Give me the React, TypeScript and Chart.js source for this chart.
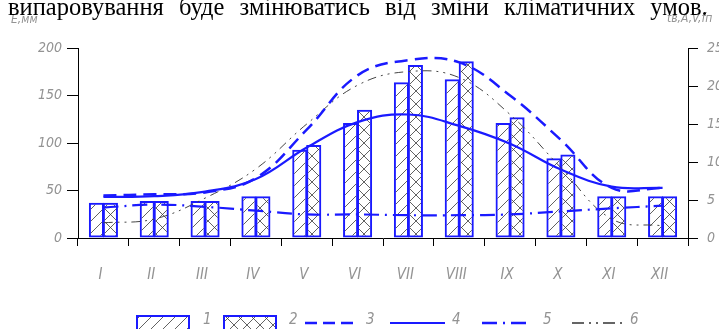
import React, { useEffect, useRef } from "react";
import { Chart, registerables } from "chart.js";

Chart.register(...registerables);

const months = ["I", "II", "III", "IV", "V", "VI", "VII", "VIII", "IX", "X", "XI", "XII"];
const evaporation1 = [37, 39, 39, 44, 93, 121, 164, 167, 121, 84, 44, 44];
const evaporation2 = [37, 39, 39, 44, 98, 135, 182, 186, 127, 88, 44, 44];
const series3 = [5.6, 5.75, 6.0, 7.9, 14.25, 21.4, 23.4, 23.1, 18.75, 12.9, 6.6, 6.6];
const series4 = [5.4, 5.5, 6.1, 7.75, 11.9, 15.25, 16.25, 14.75, 12.4, 9.0, 6.75, 6.6];
const series5 = [4.0, 4.4, 4.1, 3.6, 3.1, 3.1, 3.0, 3.0, 3.1, 3.5, 3.9, 4.25];
const series6 = [2.0, 2.5, 5.25, 9.1, 15.0, 20.1, 21.9, 21.1, 16.25, 9.25, 2.5, 1.6];
const legendLabels = ["1", "2", "3", "4", "5", "6"];
const leftTitle = "Е,мм";
const rightTitle = "tв,A,V,fп";
const headline = "випаровування буде змінюватись від зміни кліматичних умов.";

const BLUE = "#1a1aff";
const GREY_TEXT = "#939393";
const FONT_FAMILY = "'Liberation Sans Narrow', 'DejaVu Sans Condensed', 'Liberation Sans', sans-serif";

function makePattern(kind: "slash" | "cross", size: number) {
  const c = document.createElement("canvas");
  c.width = size;
  c.height = size;
  const ctx = c.getContext("2d")!;
  ctx.strokeStyle = "#3a3a3a";
  ctx.lineWidth = 0.8;
  ctx.beginPath();
  ctx.moveTo(-1, size + 1);
  ctx.lineTo(size + 1, -1);
  if (kind === "cross") {
    ctx.moveTo(-1, -1);
    ctx.lineTo(size + 1, size + 1);
  }
  ctx.stroke();
  return ctx.createPattern(c, "repeat")!;
}

export default function App() {
  const canvasRef = useRef<HTMLCanvasElement | null>(null);

  useEffect(() => {
    if (!canvasRef.current) return;
    const slash = makePattern("slash", 12);
    const cross = makePattern("cross", 13);

    const overlay = {
      id: "overlay",
      afterDraw(chart: any) {
        const ctx = chart.ctx as CanvasRenderingContext2D;
        ctx.save();
        ctx.fillStyle = GREY_TEXT;
        ctx.font = `italic 12px ${FONT_FAMILY}`;
        ctx.textBaseline = "alphabetic";
        ctx.textAlign = "left";
        ctx.fillText(leftTitle, 11, 23);
        ctx.fillText(rightTitle, 667, 22);

        // legend
        const boxTop = 316;
        const boxes = [
          { x: 137, w: 52, fill: slash },
          { x: 224, w: 52, fill: cross },
        ];
        boxes.forEach((b) => {
          ctx.fillStyle = b.fill;
          ctx.fillRect(b.x, boxTop, b.w, 20);
          ctx.strokeStyle = BLUE;
          ctx.lineWidth = 2;
          ctx.strokeRect(b.x, boxTop, b.w, 20);
        });
        const lines = [
          { x1: 305, x2: 353, color: BLUE, dash: [12, 6], w: 2.5 },
          { x1: 390, x2: 445, color: BLUE, dash: [], w: 2.2 },
          { x1: 482, x2: 530, color: BLUE, dash: [15, 6, 2, 6], w: 2.5 },
          { x1: 572, x2: 627, color: "#333", dash: [12, 5, 2, 5, 2, 5], w: 1.5 },
        ];
        lines.forEach((l) => {
          ctx.beginPath();
          ctx.strokeStyle = l.color;
          ctx.lineWidth = l.w;
          ctx.setLineDash(l.dash);
          ctx.moveTo(l.x1, 323);
          ctx.lineTo(l.x2, 323);
          ctx.stroke();
        });
        ctx.setLineDash([]);
        ctx.fillStyle = GREY_TEXT;
        ctx.font = `italic 15px ${FONT_FAMILY}`;
        const labelX = [203, 289, 366, 452, 543, 630];
        legendLabels.forEach((t, i) => ctx.fillText(t, labelX[i], 324));
        ctx.restore();
      },
    };

    const tickFont = { family: FONT_FAMILY, size: 14, style: "italic" as const };

    const chart = new Chart(canvasRef.current, {
      type: "bar",
      data: {
        labels: months,
        datasets: [
          {
            type: "line",
            label: "3",
            data: series3,
            yAxisID: "y1",
            borderColor: BLUE,
            borderWidth: 2.5,
            borderDash: [13, 7],
            pointRadius: 0,
            tension: 0.4,
            fill: false,
            order: 0,
          },
          {
            type: "line",
            label: "4",
            data: series4,
            yAxisID: "y1",
            borderColor: BLUE,
            borderWidth: 2.2,
            pointRadius: 0,
            tension: 0.4,
            fill: false,
            order: 0,
          },
          {
            type: "line",
            label: "5",
            data: series5,
            yAxisID: "y1",
            borderColor: BLUE,
            borderWidth: 2.2,
            borderDash: [15, 6, 2, 6],
            pointRadius: 0,
            tension: 0.4,
            fill: false,
            order: 0,
          },
          {
            type: "line",
            label: "6",
            data: series6,
            yAxisID: "y1",
            borderColor: "#444",
            borderWidth: 1,
            borderDash: [9, 5, 2, 5, 2, 5],
            pointRadius: 0,
            tension: 0.4,
            fill: false,
            order: 0,
          },
          {
            type: "bar",
            label: "1",
            data: evaporation1,
            yAxisID: "y",
            backgroundColor: slash,
            borderColor: BLUE,
            borderWidth: 2,
            borderSkipped: false,
            categoryPercentage: 0.55,
            barPercentage: 1.08,
            order: 1,
          },
          {
            type: "bar",
            label: "2",
            data: evaporation2,
            yAxisID: "y",
            backgroundColor: cross,
            borderColor: BLUE,
            borderWidth: 2,
            borderSkipped: false,
            categoryPercentage: 0.55,
            barPercentage: 1.08,
            order: 1,
          },
        ],
      },
      options: {
        animation: false,
        responsive: false,
        maintainAspectRatio: false,
        layout: { padding: { top: 48, left: 0, right: 0, bottom: 0 } },
        plugins: { legend: { display: false }, tooltip: { enabled: false }, title: { display: false } },
        scales: {
          x: {
            offset: true,
            grid: { offset: true, drawOnChartArea: false, drawTicks: true, tickLength: 8, color: "#000" },
            border: { display: true, color: "#000", width: 1 },
            ticks: {
              color: GREY_TEXT,
              font: { ...tickFont, size: 15 },
              padding: 20,
              labelOffset: -3,
              maxRotation: 0,
              autoSkip: false,
            },
            afterFit(scale: any) {
              scale.height = 91;
            },
          },
          y: {
            position: "left",
            min: 0,
            max: 200,
            ticks: { stepSize: 50, color: GREY_TEXT, font: tickFont, padding: 5 },
            grid: { drawOnChartArea: false, drawTicks: true, tickLength: 11, color: "#000" },
            border: { display: true, color: "#000", width: 1 },
            afterFit(scale: any) {
              scale.width = 78;
            },
          },
          y1: {
            position: "right",
            min: 0,
            max: 25,
            ticks: { stepSize: 5, color: GREY_TEXT, font: tickFont, padding: 9 },
            grid: { drawOnChartArea: false, drawTicks: true, tickLength: 10, color: "#000" },
            border: { display: true, color: "#000", width: 1 },
            afterFit(scale: any) {
              scale.width = 31;
            },
          },
        },
      },
      plugins: [overlay],
    });

    return () => chart.destroy();
  }, []);

  return (
    <div style={{ position: "fixed", left: 0, top: 0, width: 719, height: 329, overflow: "hidden", background: "#fff" }}>
      <canvas ref={canvasRef} width={719} height={329} style={{ position: "absolute", left: 0, top: 0, width: 719, height: 329 }} />
      <div
        style={{
          position: "absolute",
          left: 8,
          top: -7,
          fontFamily: "'Liberation Serif', 'Times New Roman', serif",
          fontSize: 24.5,
          wordSpacing: 9,
          color: "#000",
          whiteSpace: "nowrap",
          lineHeight: "normal",
        }}
      >
        {headline}
      </div>
    </div>
  );
}
